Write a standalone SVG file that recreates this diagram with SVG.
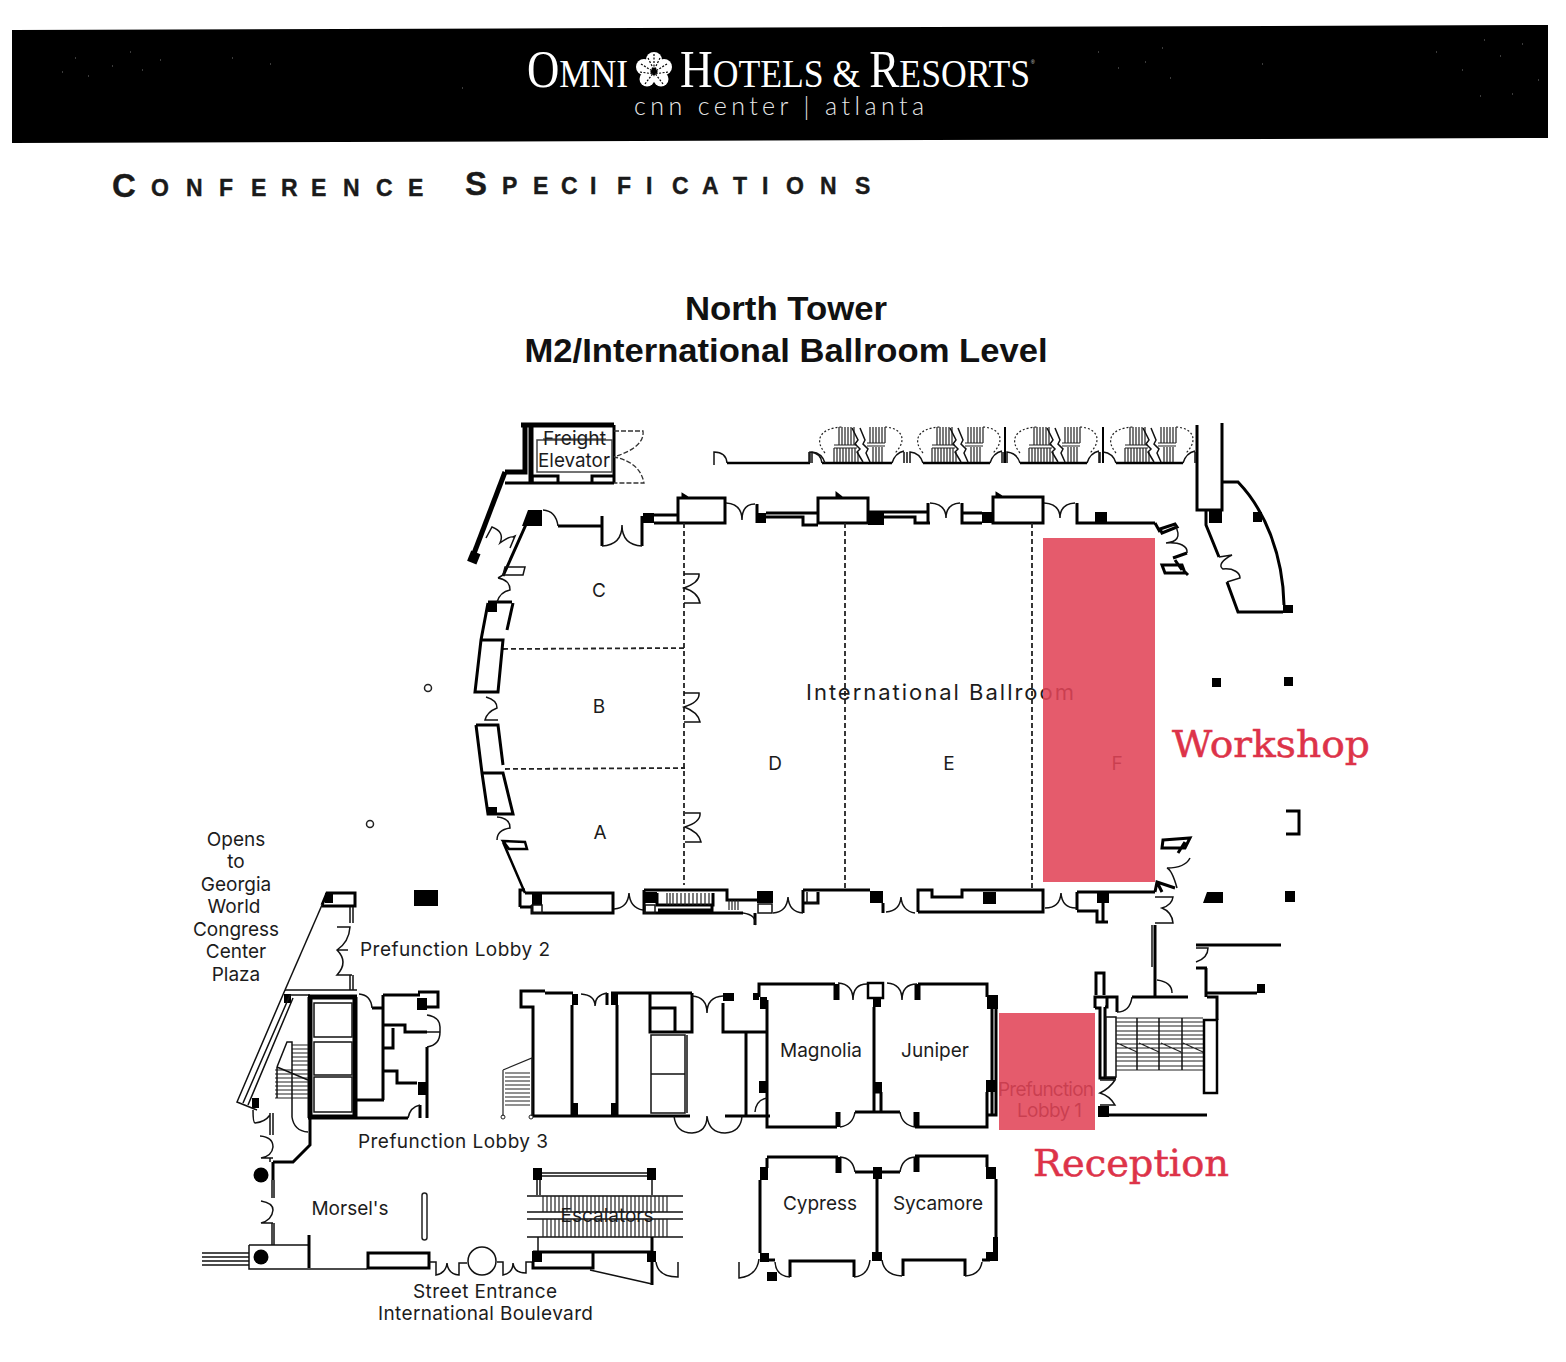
<svg xmlns="http://www.w3.org/2000/svg" width="1566" height="1362" viewBox="0 0 1566 1362">
<defs>
<style>
.w{fill:none;stroke:#000;stroke-width:3;stroke-linejoin:miter}
.x{fill:none;stroke:#000;stroke-width:5}
.t{fill:none;stroke:#111;stroke-width:1.5}
.h{fill:none;stroke:#222;stroke-width:1.2}
.d{fill:none;stroke:#222;stroke-width:1.8;stroke-dasharray:5 3}
.dd{fill:none;stroke:#333;stroke-width:1.3;stroke-dasharray:5 2}
.o{fill:none;stroke:#222;stroke-width:1.2;stroke-dasharray:2 2}
.k{fill:#000}
.l{font-family:Inter,"Noto Sans",sans-serif;font-size:19px;fill:#1c1c1c;font-weight:400}
.m{text-anchor:middle}
.cap{font-family:"Liberation Sans",Arial,sans-serif;font-weight:700;fill:#1a1a1a;stroke:#1a1a1a;stroke-width:.4}
.hd{font-family:"Liberation Sans",Arial,sans-serif;font-weight:700;font-size:33px;fill:#111;text-anchor:middle}
.logo{font-family:"Liberation Serif","Times New Roman",serif;fill:#fff}
.red{font-family:"DejaVu Serif",serif;font-size:38px;fill:#dd3349;stroke:#dd3349;stroke-width:.5}
.pink{fill:#e14458;fill-opacity:.88}
</style>
<g id="unit">
<path class="w" style="stroke-width:2.5" d="M923,463H990"/>
<path class="t" d="M907,463V452M910,463V452Q920,453 923,463M990,463Q993,453 1002,451M1002,463V452"/>
<path class="o" d="M923,453C912,440 918,428 940,427M983,427C1000,428 1006,440 993,453"/>
<path class="h" d="M937,427V445M940,427V445M943,427V445M946,427V445M949,427V445M952,427V445M932,448V462M935,448V462M938,448V462M941,448V462M944,448V462M947,448V462M950,448V462M953,448V462M956,452V462M932,445H955M932,448H955M968,427V443M971,427V443M974,427V443M977,427V443M980,427V443M983,427V443M971,447V462M974,447V462M977,447V462M980,447V462M965,443H983M965,446H983"/>
<path class="t" d="M950,428L956,440L953,444L958,449L955,452L961,462M958,428L963,440L961,444L966,449L964,453L968,462"/>
</g>
</defs>

<rect width="1566" height="1362" fill="#fff"/>

<g id="header">
<polygon class="k" points="12,30 1548,25 1548,138 12,143"/>
<path d="M62,72h1M75,58h1M88,76h1M112,66h1M130,52h1M142,70h1M160,60h1M232,58h1M270,64h1M462,88h1M1098,52h1M1118,68h1M1145,62h1M1162,48h1M1170,78h1M1262,64h1M1436,52h1M1462,70h1M1484,40h1M1500,56h1M1512,94h1M1522,44h1M1538,80h1M1480,96h1" stroke="#777" stroke-width="1" fill="none"/>
<text class="logo" y="87" x="527" font-size="52" textLength="101" lengthAdjust="spacingAndGlyphs">O<tspan font-size="41">MNI</tspan></text>
<g id="logo-flower" fill="#fff">
<circle cx="654" cy="60" r="8"/><circle cx="664" cy="67" r="8"/><circle cx="661" cy="79" r="7.5"/><circle cx="647" cy="79" r="7.5"/><circle cx="644" cy="67" r="8"/>
<path d="M654,54V70M641,64L654,72M667,64L654,72M645,84L654,72M663,84L654,72M648,58L654,70M660,58L654,70M640,72L654,74M668,72L654,74" stroke="#000" stroke-width="1.2" stroke-dasharray="2 1.5" fill="none"/>
</g>
<text class="logo" y="87" x="680" font-size="52" textLength="350" lengthAdjust="spacingAndGlyphs">H<tspan font-size="41">OTELS &amp; </tspan>R<tspan font-size="41">ESORTS</tspan></text>
<text x="1031" y="64" font-size="5" fill="#ddd" font-family="Liberation Sans,sans-serif">®</text>
<text x="634" y="115" font-family="Lato,'Noto Sans',sans-serif" font-weight="300" font-size="25" fill="#e8e8e8" textLength="290" lengthAdjust="spacing">cnn center | atlanta</text>
</g>

<g id="titles">
<text class="cap" y="197" font-size="33" x="112">C</text>
<text class="cap" y="196" font-size="23" x="151 186 219 251 281 311 343 376 408">ONFERENCE</text>
<text class="cap" y="195" font-size="33" x="465">S</text>
<text class="cap" y="194" font-size="23" x="502 533 561 590 617 646 672 702 733 762 786 820 855">PECIFICATIONS</text>
<text class="hd" x="786" y="320" textLength="202" lengthAdjust="spacingAndGlyphs">North Tower</text>
<text class="hd" x="786" y="362" textLength="523" lengthAdjust="spacingAndGlyphs">M2/International Ballroom Level</text>
</g>

<g id="plan-north">
<path class="x" d="M521,425H614M525,425V472H505M531,427V482"/>
<path class="w" d="M505,483H614M614,425V483M532,483V476H558V483M592,483V476H614"/>
<path class="x" d="M505,472L473,556"/>
<rect class="k" x="469" y="552" width="10" height="11" transform="rotate(22 474 557)"/>
<rect x="537" y="440" width="75" height="32" fill="none" stroke="#444" stroke-width="1.5"/>
<path class="dd" d="M614,431H643Q645,447 614,457Q640,462 644,483H614"/>
<path class="t" d="M486,538L492,527Q505,532 500,543Q510,536 513,537L515,536L510,548"/>
<path class="w" d="M528,520L503,576M558,526H602M602,516V546M642,516V546M654,515H678M654,523H678M678,498H725V523H678ZM683,498V495L688,498M757,504V523M766,513H818M766,517H803V525H818M818,498H868V523H818ZM837,498V494L842,498M868,512H928M880,517H915V523H930M928,503V523M962,503V523H982M962,513H982M993,497H1043V523H993ZM997,497V494L1002,497M1077,503V523H1155"/>
<path class="k" d="M528,510H542V526H522ZM643,513H654V523H643ZM757,513H766V523H757ZM868,512H884V525H868ZM982,512H993V523H982ZM1095,512H1107V523H1095Z"/>
<path class="t" d="M505,567H525L523,575H503ZM543,510Q556,511 558,526M602,546Q622,545 622,525Q622,545 642,546M726,503Q742,504 742,520Q742,504 755,504M930,503Q946,504 946,518Q946,504 960,503M1044,503Q1060,504 1060,518Q1060,504 1075,503"/>
<path class="w" d="M1155,523L1160,532M1160,529L1175,524L1177,527L1162,533ZM1173,558L1187,553M1175,560L1182,570M1162,565H1182L1185,573H1165ZM1185,572L1188,575"/>
<path class="t" d="M1175,525C1182,538 1176,542 1166,543C1180,542 1188,546 1187,553"/>
<path class="w" d="M1197,425V510H1222V423M1206,510V525L1219,557M1227,582L1238,612H1283M1222,482H1238C1265,510 1283,555 1284,605"/>
<path class="t" d="M1219,557L1232,555C1222,560 1218,566 1223,569C1234,568 1240,573 1240,578L1227,582"/>
<path class="k" d="M1209,510H1222V523H1209ZM1283,605H1293V613H1283ZM1253,512H1262V522H1253ZM1212,678H1221V687H1212ZM1284,677H1293V686H1284ZM1207,892H1223V903H1203ZM1285,891H1295V902H1285ZM414,890H438V906H414Z"/>
<path class="w" d="M1286,811H1299V834H1286"/>
<circle cx="428" cy="688" r="3.5" fill="none" stroke="#222" stroke-width="1.5"/>
<circle cx="370" cy="824" r="3.5" fill="none" stroke="#222" stroke-width="1.5"/>
<path class="t" d="M714,465V452Q726,452 727,463"/>
<path class="w" style="stroke-width:2.5" d="M727,463H810M822,463H825"/>
<path class="t" d="M810,463V452Q821,453 822,463"/>
<use href="#unit" x="-98"/>
<use href="#unit"/>
<use href="#unit" x="97"/>
<use href="#unit" x="193"/>
<path class="w" style="stroke-width:2" d="M1005,427V463M1103,427V463"/>
<path class="d" d="M684,523V885M845,523V890M1032,523V888M503,649L684,648M505,769L685,768"/>
<path class="t" d="M684,574H699Q700,582 684,588Q698,592 700,603H684M684,693H699Q700,702 684,707Q698,712 700,722H684M685,813H700Q701,822 685,827Q699,832 701,842H685"/>
<path class="w" d="M488,602H512M488,603L481,640L475,692H498L503,640H481M513,603L507,630M476,725H498L503,765M476,725L482,773L488,814H513L503,773H482"/>
<path class="k" d="M488,603H497V612H488ZM488,807H497V815H488Z"/>
<path class="t" d="M498,578L503,575M498,578Q510,580 510,590Q500,592 497,602M486,697Q497,700 497,708Q487,712 485,720H498M497,817Q510,818 510,828Q497,830 497,840"/>
<path class="w" style="stroke-width:2.5" d="M503,841L525,842L527,849L509,849ZM503,842L525,893"/>
<path class="w" d="M520,907V890H525M520,907H532M525,893H613V913H532V905M644,890H727V900H757M644,890V913H743M657,893V905H713V893M658,905H712V910H658M755,913V925M803,890V913M803,890H870M803,903H818V892M883,903V913M918,912V890H932V897H962V890H1043V912H918M1077,892V910M1077,892H1155M1077,911H1097V922H1108M1103,903V922"/>
<path class="k" d="M532,893H542V905H532ZM644,892H657V903H644ZM757,891H773V903H757ZM870,891H883V903H870ZM983,892H996V904H983ZM1097,893H1109V903H1097Z"/>
<path class="t" d="M532,905H542V913H532ZM645,905H655V913H645ZM758,904H772V913H758ZM807,892V903H818M743,913Q757,915 755,925"/>
<path class="h" d="M667,893V905M670,893V905M673,893V905M677,893V905M681,893V905M685,893V905M689,893V905M693,893V905M697,893V905M701,893V905M705,893V905M709,893V905M729,900V910M732,900V910M735,900V910M738,900V910"/>
<path class="t" d="M614,909Q628,908 629,893Q630,908 643,910M773,913Q787,912 788,897Q789,912 803,913M886,912Q900,911 901,897Q902,911 915,913M1045,908Q1060,908 1061,893Q1062,908 1076,908"/>
<path class="w" d="M1155,892L1157,882L1175,888M1157,882L1162,892M1178,853L1185,842M1163,840L1190,838L1185,848H1162Z"/>
<path class="t" d="M1177,888Q1172,870 1167,868Q1185,868 1190,858M1155,897H1173Q1172,905 1162,908Q1172,912 1173,923H1155M1157,980Q1172,982 1172,993"/>
<path class="w" d="M1155,925V996M1132,997H1188"/>
<path class="t" d="M1152,925V967"/>
<path class="w" d="M1096,995V973H1104V995M1095,1008V997H1117V1012M1095,1008H1100V1078H1116M1105,1007H1107V998M1105,1007V1077"/>
<rect x="1106" y="1017" width="10" height="60" fill="#fff" stroke="#111" stroke-width="1.5"/>
<path class="t" d="M1117,1012Q1130,1012 1132,997M1100,1080H1115Q1110,1088 1100,1093Q1110,1096 1115,1105H1100"/>
<path class="h" d="M1116,1018H1203M1116,1022H1203M1116,1026H1203M1116,1031H1203M1116,1035H1203M1116,1039H1203M1116,1044H1203M1116,1048H1203M1116,1053H1203M1116,1057H1203M1116,1061H1203M1116,1066H1203M1116,1070H1203M1117,1043L1137,1052M1139,1043L1159,1052M1161,1043L1181,1052M1183,1043L1203,1052"/>
<path class="t" d="M1137,1018V1070M1159,1018V1070M1182,1018V1070"/>
<path class="w" d="M1207,997H1217V1020M1196,945H1281M1196,968H1207M1206,968V997M1207,993H1257"/>
<path class="t" d="M1196,948H1208Q1208,958 1196,962"/>
<rect x="1204" y="1020" width="13" height="73" fill="#fff" stroke="#000" stroke-width="2.5"/>
<path class="k" d="M1257,984H1265V993H1257ZM1098,1106H1109V1117H1098Z"/>
<path class="w" d="M1109,1115H1207"/>
</g>

<g id="plan-meeting-rooms">
<path class="w" d="M759,997V984H835M835,984V1000M838,984V1000M767,1000V1127H837M918,984H987V997M874,1007V1112M881,1092V1112M874,1092H881M916,984V1000M919,984V1000M992,1009V1115H996V1009M987,1092V1115H995M987,1115V1127H915M915,1112V1127M918,1112V1127M837,1112V1127M839,1112V1127M855,1112H900"/>
<rect x="868" y="983" width="15" height="15" fill="none" stroke="#000" stroke-width="2.5"/>
<path class="k" d="M760,997H767V1009H760ZM753,993H759V1000H753ZM873,998H881V1007H873ZM873,1082H882V1092H873ZM987,995H998V1009H987ZM986,1080H995V1092H986ZM759,1081H767V1093H759Z"/>
<path class="t" d="M838,983Q853,984 853,1000Q853,984 867,984M887,983Q902,984 902,1000Q902,984 917,984M900,1112Q902,1125 915,1127M855,1112Q853,1125 840,1127M767,1098Q756,1100 755,1112"/>
<path class="w" d="M767,1158V1168M767,1157H838M837,1157V1173M840,1157V1173M855,1172H873M882,1172H900M915,1157V1172M918,1157V1172M915,1156H987V1167M760,1180V1253M877,1179V1252M996,1179V1237M790,1277V1261H854V1277M903,1276V1260H965V1276M769,1260H775M982,1260H990"/>
<path class="k" d="M760,1167H768V1180H760ZM873,1167H882V1179H873ZM986,1167H996V1179H986ZM760,1253H769V1262H760ZM872,1252H882V1261H872ZM986,1252H998V1261H986ZM993,1237H998V1260H993ZM767,1272H777V1281H767Z"/>
<path class="t" d="M840,1157Q853,1158 855,1172M900,1172Q902,1158 915,1157M775,1262Q776,1276 790,1277M854,1277Q868,1276 870,1260M882,1260Q884,1275 902,1276M965,1276Q980,1275 982,1262M759,1259Q757,1276 739,1278V1262"/>
</g>

<g id="plan-center">
<path class="w" d="M545,991H521V1007H533V1116M545,993H573M572,1005V1116M607,993V1005M617,1005V1116M611,993H692M650,993V1032H692V993M651,1008H675V1032M533,1116H690M723,1003V1032H768M725,1116H770M746,1033V1116"/>
<path class="k" d="M572,994H578V1005H572ZM571,1103H578V1116H571ZM611,994H618V1005H611ZM611,1103H618V1116H611ZM723,993H734V1001H723Z"/>
<path class="t" d="M581,994Q595,995 595,1006Q595,995 607,993M692,996Q707,997 707,1013Q707,997 723,996M674,1116Q676,1133 692,1133Q707,1132 707,1116Q709,1133 725,1133Q741,1132 742,1116"/>
<path class="t" d="M651,1035H685V1113H651ZM651,1074H685M687,1035V1113"/>
<path class="h" d="M503,1070V1116M532,1116V1058L503,1070M505,1073H530M505,1077H530M505,1081H530M505,1085H530M505,1089H530M505,1093H530M505,1097H530M505,1101H530M505,1105H530"/>
<circle cx="503" cy="1117" r="2" fill="none" stroke="#222"/><circle cx="531" cy="1117" r="2" fill="none" stroke="#222"/>
</g>

<g id="plan-west">
<path class="w" d="M322,905L327,893H355V906H322"/>
<path class="k" d="M325,893H333V903H325ZM284,994H291V1003H284ZM252,1098H259V1108H252ZM417,998H427V1010H417ZM418,1082H427V1095H418Z"/>
<path class="t" d="M322,905L285,990"/>
<path class="t" d="M285,990L237,1102L257,1110M290,995L243,1103M293,998L248,1105M285,990H357M290,995H310M350,907V923M353,907V923M350,975V990M353,975V990"/>
<path class="t" d="M337,927H350Q349,942 337,950Q349,962 337,975H352M337,950H348"/>
<path class="x" d="M308,997H357M310,997V1118M355,997V1118M308,1117H357"/>
<path class="t" d="M314,1003H352V1037H314ZM314,1042H352V1075H314ZM314,1077H352V1112H314Z"/>
<path class="h" d="M292,1045H308M292,1049H308M292,1053H308M292,1057H308M292,1061H308M292,1065H308M275,1070H308M275,1074H308M275,1078H308M275,1082H308M275,1086H308M275,1090H308M275,1094H308M275,1098H308"/>
<path class="t" d="M277,1067L287,1042H292V1117M277,1067V1098M277,1067L308,1080M292,1117Q294,1131 308,1132"/>
<path class="w" d="M310,1118V1145L293,1162H273M273,1162V1180"/>
<path class="t" d="M253,1110Q253,1123 255,1123Q265,1122 270,1115M270,1113V1135M273,1113V1135M260,1136Q273,1137 273,1147Q272,1156 261,1158H273M270,1158V1162"/>
<path class="w" d="M383,995H420M383,995V1100M357,1100H384M372,1008H383M418,992H438V1007H427M427,1047V1118M384,1025H405V1032H427M384,1048H393V1028M384,1071H397V1083H417M357,1118H408M420,1105V1118"/>
<path class="t" d="M359,994Q371,995 372,1008M427,1015Q440,1017 440,1027V1032H427M440,1032Q440,1045 427,1047M408,1118Q410,1107 420,1105"/>
<path class="t" d="M272,1180V1198M274,1180V1198M261,1201Q273,1203 273,1210Q272,1220 261,1223H273M272,1223V1245M274,1223V1245"/>
<circle cx="261" cy="1175" r="7.5" class="k"/>
<path class="t" d="M249,1245H309M249,1245V1269H309M309,1269H367M202,1253H249M202,1257H249M202,1261H249M202,1265H249"/>
<circle cx="261" cy="1257" r="7.5" class="k"/>
<path class="w" d="M309,1235V1268"/>
<rect x="422" y="1193" width="5" height="47" rx="2.5" fill="none" stroke="#222" stroke-width="1.5"/>
<rect x="368" y="1253" width="61" height="15" fill="none" stroke="#000" stroke-width="3"/>
<path class="t" d="M429,1262H436V1275Q446,1273 447,1263Q448,1274 459,1275V1263H467M497,1262H503V1275Q513,1273 513,1263Q514,1273 526,1273V1262H532"/>
<circle cx="482" cy="1261" r="14" fill="none" stroke="#111" stroke-width="1.5"/>
<path class="k" d="M533,1168H542V1180H533ZM647,1168H656V1180H647ZM532,1251H542V1262H532ZM647,1251H656V1262H647Z"/>
<path class="t" d="M542,1173H647M542,1176H647M537,1180V1195M540,1180V1195M652,1180V1195M527,1196H683M527,1212H683M527,1219H683M527,1237H683M538,1237V1252"/>
<path class="h" d="M543,1196V1212M547,1196V1212M551,1196V1212M555,1196V1212M559,1196V1212M563,1196V1212M567,1196V1212M571,1196V1212M575,1196V1212M579,1196V1212M583,1196V1212M587,1196V1212M591,1196V1212M595,1196V1212M599,1196V1212M603,1196V1212M607,1196V1212M611,1196V1212M615,1196V1212M619,1196V1212M623,1196V1212M627,1196V1212M631,1196V1212M635,1196V1212M639,1196V1212M643,1196V1212M647,1196V1212M651,1196V1212M655,1196V1212M659,1196V1212M663,1196V1212M667,1196V1212M543,1219V1237M547,1219V1237M551,1219V1237M555,1219V1237M559,1219V1237M563,1219V1237M567,1219V1237M571,1219V1237M575,1219V1237M579,1219V1237M583,1219V1237M587,1219V1237M591,1219V1237M595,1219V1237M599,1219V1237M603,1219V1237M607,1219V1237M611,1219V1237M615,1219V1237M619,1219V1237M623,1219V1237M627,1219V1237M631,1219V1237M635,1219V1237M639,1219V1237M643,1219V1237M647,1219V1237M651,1219V1237M655,1219V1237M659,1219V1237M663,1219V1237M667,1219V1237"/>
<path class="w" d="M652,1237V1285M533,1252H652M533,1262V1268H593V1253"/>
<path class="t" d="M590,1270L652,1284M656,1262Q658,1277 678,1277V1262"/>
</g>

<g id="labels">
<text class="l" x="543" y="445" textLength="63" lengthAdjust="spacingAndGlyphs">Freight</text>
<text class="l" x="538" y="467" textLength="72" lengthAdjust="spacingAndGlyphs">Elevator</text>
<path class="h" d="M543,439H606"/>
<text class="l m" x="599" y="597">C</text>
<text class="l m" x="599" y="713">B</text>
<text class="l m" x="600" y="839">A</text>
<text class="l m" x="775" y="770">D</text>
<text class="l m" x="949" y="770">E</text>
<text class="l m" x="1117" y="770">F</text>
<text class="l" x="806" y="700" style="font-size:22px" textLength="268">International Ballroom</text>
<text class="l m" x="236" y="846">Opens</text>
<text class="l m" x="236" y="868">to</text>
<text class="l m" x="236" y="891">Georgia</text>
<text class="l m" x="234" y="913">World</text>
<text class="l m" x="236" y="936">Congress</text>
<text class="l m" x="236" y="958">Center</text>
<text class="l m" x="236" y="981">Plaza</text>
<text class="l" x="360" y="956" textLength="190">Prefunction Lobby 2</text>
<text class="l" x="358" y="1148" textLength="190">Prefunction Lobby 3</text>
<text class="l m" x="821" y="1057">Magnolia</text>
<text class="l m" x="935" y="1057">Juniper</text>
<text class="l m" x="820" y="1210">Cypress</text>
<text class="l m" x="938" y="1210">Sycamore</text>
<text class="l m" x="350" y="1215">Morsel's</text>
<text class="l m" x="607" y="1222">Escalators</text>
<text class="l" x="413" y="1298" textLength="144">Street Entrance</text>
<text class="l" x="378" y="1320" textLength="215">International Boulevard</text>
<text class="l" x="998" y="1096" textLength="96">Prefunction</text>
<text class="l" x="1017" y="1117" textLength="65">Lobby 1</text>
</g>

<g id="highlights">
<rect id="workshop-area" class="pink" x="1043" y="538" width="112" height="344"/>
<rect id="reception-area" class="pink" x="999" y="1013" width="96" height="117"/>
<text class="red" x="1172" y="757" textLength="198" lengthAdjust="spacingAndGlyphs">Workshop</text>
<text class="red" x="1033" y="1176" textLength="196" lengthAdjust="spacingAndGlyphs">Reception</text>
</g>
</svg>
